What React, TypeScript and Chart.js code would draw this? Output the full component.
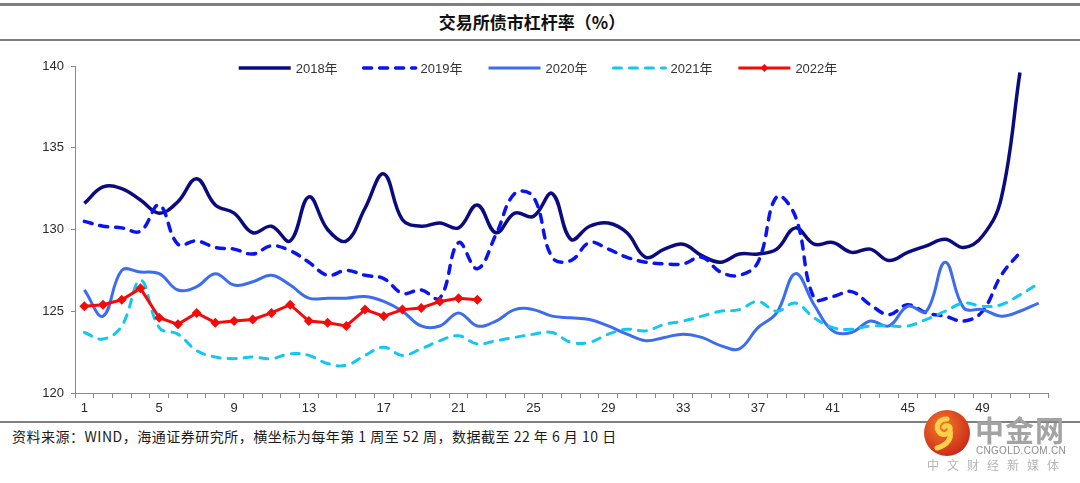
import React, { useEffect, useRef } from "react";
import { Chart, registerables } from "chart.js";

Chart.register(...registerables);

// Week numbers on the category axis (1–52)
const weeks: string[] = Array.from({ length: 52 }, (_, i) => String(i + 1));

// Labels shown under the axis every four weeks
const shownWeekLabels: string[] = ["1", "5", "9", "13", "17", "21", "25", "29", "33", "37", "41", "45", "49"];

const yTicks: number[] = [120, 125, 130, 135, 140];

const seriesNames: string[] = ["2018年", "2019年", "2020年", "2021年", "2022年"];

const lev2018: number[] = [
  131.6, 132.6, 132.5, 131.8, 131.0, 131.7, 133.1, 131.5, 131.0, 129.8,
  130.2, 129.3, 132.0, 130.0, 129.3, 131.3, 133.4, 130.6, 130.2, 130.4,
  130.1, 131.5, 129.8, 131.0, 130.8, 132.2, 129.4, 130.2, 130.4, 129.8,
  128.3, 128.8, 129.1, 128.4, 128.0, 128.5, 128.5, 128.8, 130.1, 129.1,
  129.2, 128.6, 128.8, 128.1, 128.6, 129.0, 129.4, 128.9, 129.6, 131.9,
  139.6,
];

const lev2019: number[] = [
  130.5, 130.2, 130.1, 129.9, 131.5, 129.1, 129.3, 128.9, 128.8, 128.5,
  129.0, 128.7, 128.0, 127.2, 127.5, 127.2, 127.0, 126.1, 126.3, 125.8,
  129.2, 127.6, 129.7, 132.2, 132.0, 128.3, 128.1, 129.2, 128.8, 128.3,
  128.0, 127.9, 127.9, 128.3, 127.4, 127.2, 128.0, 132.0, 130.8, 125.8,
  125.9, 126.2, 125.4, 124.8, 125.4, 124.9, 124.7, 124.4, 125.0, 127.2,
  128.6,
];

const lev2020: number[] = [
  126.3, 124.7, 127.5, 127.4, 127.3, 126.3, 126.5, 127.3, 126.6, 126.8,
  127.2, 126.6, 125.8, 125.8, 125.8, 125.9, 125.6, 125.0, 124.1, 124.1,
  124.9, 124.1, 124.4, 125.1, 125.1, 124.7, 124.6, 124.5, 124.1, 123.6,
  123.2, 123.4, 123.6, 123.4, 122.9, 122.7, 124.0, 124.9, 127.3, 125.4,
  123.8, 123.7, 124.4, 124.1, 125.3, 125.0, 128.0, 125.2, 125.1, 124.7,
  125.0, 125.5,
];

const lev2021: number[] = [
  123.7, 123.3, 124.1, 126.9, 124.0, 123.6, 122.6, 122.2, 122.1, 122.2,
  122.1, 122.4, 122.3, 121.8, 121.7, 122.3, 122.8, 122.3, 122.7, 123.2,
  123.5, 123.0, 123.2, 123.4, 123.6, 123.7, 123.1, 123.1, 123.6, 123.9,
  123.8, 124.2, 124.4, 124.7, 125.0, 125.1, 125.6, 125.0, 125.5, 124.6,
  124.0, 123.9, 124.1, 124.1, 124.1, 124.5, 125.0, 125.5, 125.3, 125.4,
  126.0, 126.7,
];

const lev2022: number[] = [
  125.3, 125.4, 125.7, 126.4, 124.6, 124.2, 124.9, 124.3, 124.4, 124.5,
  124.9, 125.4, 124.4, 124.3, 124.1, 125.1, 124.7, 125.1, 125.2, 125.6,
  125.8, 125.7,
];

const colors: string[] = ["#0B0B80", "#0A14F0", "#3C6CF0", "#12C8F2", "#F50A0A"];

const TICK_FONT = { family: "'Liberation Sans', Arial, sans-serif", size: 13 };

// Legend drawn inside the plot area: line samples (dashed where the series is dashed)
const lineLegend = {
  id: "lineLegend",
  afterDraw(chart: any) {
    const ctx: CanvasRenderingContext2D = chart.ctx;
    const y = 23;
    const sampleLen = 52;
    const textGap = 5;
    const itemGap = 26;
    ctx.save();
    ctx.font = "13px 'Liberation Sans', Arial, 'Noto Sans CJK SC', sans-serif";
    const ds = chart.data.datasets;
    const widths = ds.map((d: any) => sampleLen + textGap + ctx.measureText(d.label).width);
    const total = widths.reduce((a: number, b: number) => a + b, 0) + itemGap * (ds.length - 1);
    let x = chart.width / 2 - total / 2 - 2;
    ds.forEach((d: any, i: number) => {
      ctx.beginPath();
      ctx.setLineDash(d.borderDash || []);
      ctx.lineCap = d.borderDash ? "round" : "butt";
      ctx.lineWidth = d.borderWidth;
      ctx.strokeStyle = d.borderColor;
      ctx.moveTo(x, y);
      ctx.lineTo(x + sampleLen, y);
      ctx.stroke();
      ctx.setLineDash([]);
      if (d.pointStyle === "rectRot") {
        const cx = x + sampleLen / 2;
        const r = 4;
        ctx.beginPath();
        ctx.moveTo(cx, y - r);
        ctx.lineTo(cx + r, y);
        ctx.lineTo(cx, y + r);
        ctx.lineTo(cx - r, y);
        ctx.closePath();
        ctx.fillStyle = d.borderColor;
        ctx.fill();
      }
      ctx.fillStyle = "#333";
      ctx.textBaseline = "middle";
      ctx.textAlign = "left";
      ctx.fillText(d.label, x + sampleLen + textGap, y + 1);
      x += widths[i] + itemGap;
    });
    ctx.restore();
  },
};

function LeverageChart() {
  const ref = useRef<HTMLCanvasElement | null>(null);

  useEffect(() => {
    if (!ref.current) return;
    const smooth = { tension: 0.4, pointRadius: 0, fill: false };
    const chart = new Chart(ref.current, {
      type: "line",
      data: {
        labels: weeks,
        datasets: [
          { label: seriesNames[0], data: lev2018, borderColor: colors[0], borderWidth: 3.5, order: 4, ...smooth },
          { label: seriesNames[1], data: lev2019, borderColor: colors[1], borderWidth: 3.5, borderDash: [8, 8], borderCapStyle: "round", order: 3, ...smooth },
          { label: seriesNames[2], data: lev2020, borderColor: colors[2], borderWidth: 3, order: 2, ...smooth },
          { label: seriesNames[3], data: lev2021, borderColor: colors[3], borderWidth: 3, borderDash: [8, 8], borderCapStyle: "round", order: 1, ...smooth },
          {
            label: seriesNames[4],
            data: lev2022,
            borderColor: colors[4],
            backgroundColor: colors[4],
            borderWidth: 3,
            tension: 0,
            pointStyle: "rectRot",
            pointRadius: 5,
            pointBorderWidth: 0,
            order: 0,
            fill: false,
          },
        ],
      } as any,
      options: {
        animation: false,
        responsive: false,
        maintainAspectRatio: false,
        layout: { padding: { top: 21, right: 32, bottom: 0, left: 0 } },
        plugins: { legend: { display: false }, tooltip: { enabled: false }, title: { display: false } },
        scales: {
          x: {
            type: "category",
            offset: true,
            afterFit: (s: any) => {
              s.height = 27;
            },
            grid: {
              display: true,
              offset: true,
              drawOnChartArea: false,
              drawTicks: true,
              tickLength: 5,
              color: "#8a8a8a",
            },
            border: { display: true, color: "#8a8a8a", width: 1 },
            ticks: {
              autoSkip: false,
              maxRotation: 0,
              padding: 3,
              color: "#2a2a2a",
              font: TICK_FONT,
              callback: (_v: any, i: number) => (shownWeekLabels.includes(weeks[i]) ? weeks[i] : ""),
            },
          },
          y: {
            min: yTicks[0],
            max: yTicks[yTicks.length - 1],
            afterFit: (s: any) => {
              s.width = 75;
            },
            afterBuildTicks: (s: any) => {
              s.ticks = yTicks.map((v) => ({ value: v }));
            },
            grid: {
              display: true,
              drawOnChartArea: false,
              drawTicks: true,
              tickLength: 4,
              color: "#8a8a8a",
            },
            border: { display: true, color: "#8a8a8a", width: 1 },
            ticks: { padding: 7, color: "#2a2a2a", font: TICK_FONT },
          },
        },
      },
      plugins: [lineLegend],
    });
    return () => chart.destroy();
  }, []);

  return (
    <canvas
      ref={ref}
      width={1080}
      height={375}
      style={{ position: "absolute", left: 0, top: 45, width: 1080, height: 375 }}
    />
  );
}

function Watermark() {
  return (
    <div style={{ position: "absolute", left: 920, top: 408, width: 160, height: 75 }}>
      <svg width={56} height={56} style={{ position: "absolute", left: 4, top: 2 }} viewBox="0 0 56 56">
        <defs>
          <radialGradient id="wmg" cx="40%" cy="35%" r="70%">
            <stop offset="0%" stopColor="#f47a28" />
            <stop offset="100%" stopColor="#c9261a" />
          </radialGradient>
        </defs>
        <circle cx={23} cy={23} r={23} fill="url(#wmg)" />
        <path
          d="M23 9 C14 9 11 17 15 22 C18 26 25 25 26 20 C27 16 22 14 20 17 M26 20 C28 29 23 35 13 38"
          fill="none"
          stroke="#fbd14a"
          strokeWidth={5}
          strokeLinecap="round"
        />
      </svg>
      <div
        style={{
          position: "absolute",
          left: 55,
          top: 5,
          fontFamily: "'Noto Sans CJK SC', sans-serif",
          fontWeight: 700,
          fontSize: 29,
          lineHeight: "32px",
          color: "#a3a3a3",
          letterSpacing: 1,
        }}
      >
        中金网
      </div>
      <div
        style={{
          position: "absolute",
          left: 56,
          top: 37,
          fontFamily: "'Liberation Sans', Arial, sans-serif",
          fontSize: 10,
          lineHeight: "12px",
          color: "#8d8d8d",
          letterSpacing: 0.3,
        }}
      >
        CNGOLD.COM.CN
      </div>
      <div
        style={{
          position: "absolute",
          left: 7,
          top: 50,
          fontFamily: "'Noto Sans CJK SC', sans-serif",
          fontSize: 12,
          lineHeight: "14px",
          color: "#b5b5b5",
          letterSpacing: 8,
          whiteSpace: "nowrap",
        }}
      >
        中文财经新媒体
      </div>
    </div>
  );
}

export default function App() {
  const rule = (top: number, h: number): React.CSSProperties => ({
    position: "absolute",
    left: 0,
    top,
    width: 1080,
    height: h,
    background: "#7f7f7f",
  });
  return (
    <div
      style={{
        position: "absolute",
        left: 0,
        top: 0,
        width: 1080,
        height: 483,
        background: "#ffffff",
        overflow: "hidden",
      }}
    >
      <div style={rule(3, 3)} />
      <div
        style={{
          position: "absolute",
          left: -8,
          top: 11,
          width: 1080,
          textAlign: "center",
          fontFamily: "'Noto Sans CJK SC', sans-serif",
          fontWeight: 700,
          fontSize: 17,
          lineHeight: "22px",
          color: "#111",
        }}
      >
        交易所债市杠杆率（%）
      </div>
      <div style={rule(39, 2)} />
      <LeverageChart />
      <div style={rule(421, 2)} />
      <div
        style={{
          position: "absolute",
          left: 12,
          top: 428,
          fontFamily: "'Noto Sans CJK SC', sans-serif",
          fontSize: 14,
          lineHeight: "16px",
          letterSpacing: 0.5,
          color: "#1a1a1a",
          whiteSpace: "nowrap",
        }}
      >
        资料来源：WIND，海通证券研究所，横坐标为每年第 1 周至 52 周，数据截至 22 年 6 月 10 日
      </div>
      <Watermark />
    </div>
  );
}
